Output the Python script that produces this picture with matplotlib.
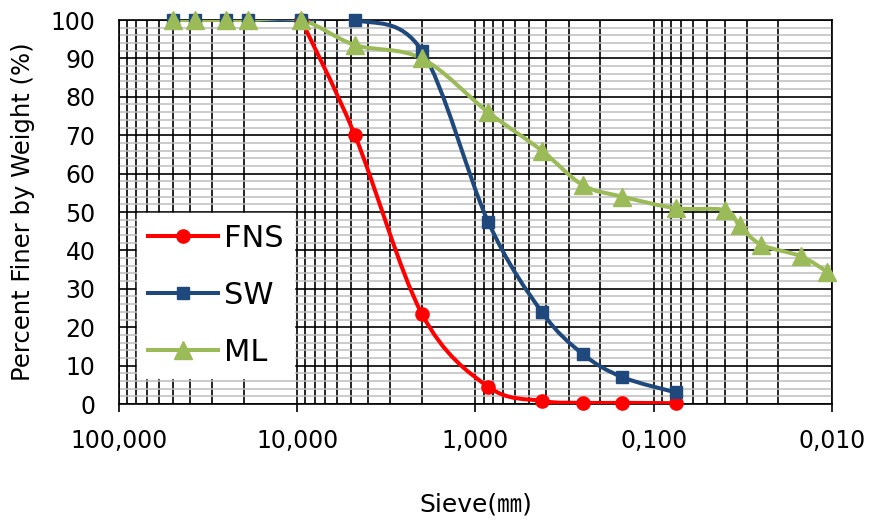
import numpy as np
import matplotlib
matplotlib.use("Agg")
import matplotlib.pyplot as plt
from matplotlib.path import Path
from matplotlib.patches import PathPatch
from matplotlib.lines import Line2D
from matplotlib.ticker import FixedLocator, FuncFormatter, LogLocator, NullFormatter

plt.rcParams['font.family'] = ['DejaVu Sans', 'Noto Sans CJK KR']

# sieve openings (mm) and hydrometer grain sizes (mm)
sieve_mm = [50, 37.5, 25, 19, 9.5, 4.75, 2.0, 0.85, 0.425, 0.25, 0.15, 0.075]
hydro_mm = [0.040, 0.033, 0.025, 0.015, 0.0107]

# percent passing
fns_mm = sieve_mm[4:]
fns_pass = [100, 70, 23.5, 4.5, 0.8, 0.3, 0.3, 0.2]
sw_mm = sieve_mm
sw_pass = [100, 100, 100, 100, 100, 100, 92, 47.5, 24, 13, 7, 3]
ml_mm = sieve_mm + hydro_mm
ml_pass = [100, 100, 100, 100, 100, 93.5, 90, 76, 66, 57, 54, 51,
           50.5, 46.5, 41.5, 38.5, 34.5]

names = ['FNS', 'SW', 'ML']
colors = ['#FF0000', '#1F497D', '#9BBB59']
markers = ['o', 's', '^']
msizes = [9.5, 9, 12.5]


def smooth_path(x, y):
    # Catmull-Rom style bezier through the points, built in log-x space
    pts = np.column_stack([np.log10(x), y]).astype(float)
    n = len(pts)
    verts = [pts[0]]
    codes = [Path.MOVETO]
    for i in range(n - 1):
        p0 = pts[max(i - 1, 0)]
        p1 = pts[i]
        p2 = pts[i + 1]
        p3 = pts[min(i + 2, n - 1)]
        verts += [p1 + (p2 - p0) / 6, p2 - (p3 - p1) / 6, p2]
        codes += [Path.CURVE4] * 3
    verts = np.array(verts)
    verts[:, 0] = 10 ** verts[:, 0]
    return Path(verts, codes)


fig = plt.figure(figsize=(8.7, 5.24), dpi=100)
ax = fig.add_axes([119 / 870, 120 / 524, 713 / 870, 384 / 524])

ax.set_xscale('log')
ax.set_xlim(100, 0.01)
ax.set_ylim(0, 100)

series = [(fns_mm, fns_pass), (sw_mm, sw_pass), (ml_mm, ml_pass)]
handles = []
for (xs, ys), name, c, m, ms in zip(series, names, colors, markers, msizes):
    ax.add_patch(PathPatch(smooth_path(xs, ys), facecolor='none', edgecolor=c,
                           lw=2.9, zorder=3, capstyle='round'))
    ax.plot(xs, ys, ls='none', marker=m, ms=ms, color=c, zorder=4, clip_on=False)
    handles.append(Line2D([], [], color=c, lw=2.9, marker=m, ms=ms, label=name))

# grid
ax.xaxis.set_major_locator(FixedLocator([100, 10, 1, 0.1, 0.01]))
ax.xaxis.set_minor_locator(LogLocator(base=10, subs=np.arange(2, 10)))
ax.xaxis.set_minor_formatter(NullFormatter())
ax.xaxis.set_major_formatter(FuncFormatter(lambda v, p: f'{v:.3f}'.replace('.', ',')))
ax.set_yticks(np.arange(0, 101, 10))
ax.set_yticks(np.arange(0, 101, 2), minor=True)

ax.grid(which='major', axis='both', color='black', lw=1.2)
ax.grid(which='minor', axis='x', color='black', lw=1.2)
ax.grid(which='minor', axis='y', color='#BDBDBD', lw=1.1)
ax.set_axisbelow(True)

for s in ax.spines.values():
    s.set_color('black')
    s.set_linewidth(1.2)

ax.tick_params(axis='x', which='major', length=6, width=1.2, pad=12, labelsize=17)
ax.tick_params(axis='x', which='minor', length=0)
ax.tick_params(axis='y', which='both', length=0, pad=17, labelsize=17)

ax.set_ylabel('Percent Finer by Weight (%)', fontsize=17.5)
ax.yaxis.set_label_coords(-0.118, 0.5)
ax.set_xlabel('Sieve(㎜)', fontsize=18)
ax.xaxis.set_label_coords(0.5, -0.23)

leg = ax.legend(handles=handles, loc='upper left', bbox_to_anchor=(0.025, 0.497),
                borderaxespad=0, fontsize=22, handlelength=2.3, handletextpad=0.2,
                labelspacing=0.92, borderpad=0.35, fancybox=False, framealpha=1,
                edgecolor='white')
leg.set_zorder(5)

fig.savefig('out.png', dpi=100)
